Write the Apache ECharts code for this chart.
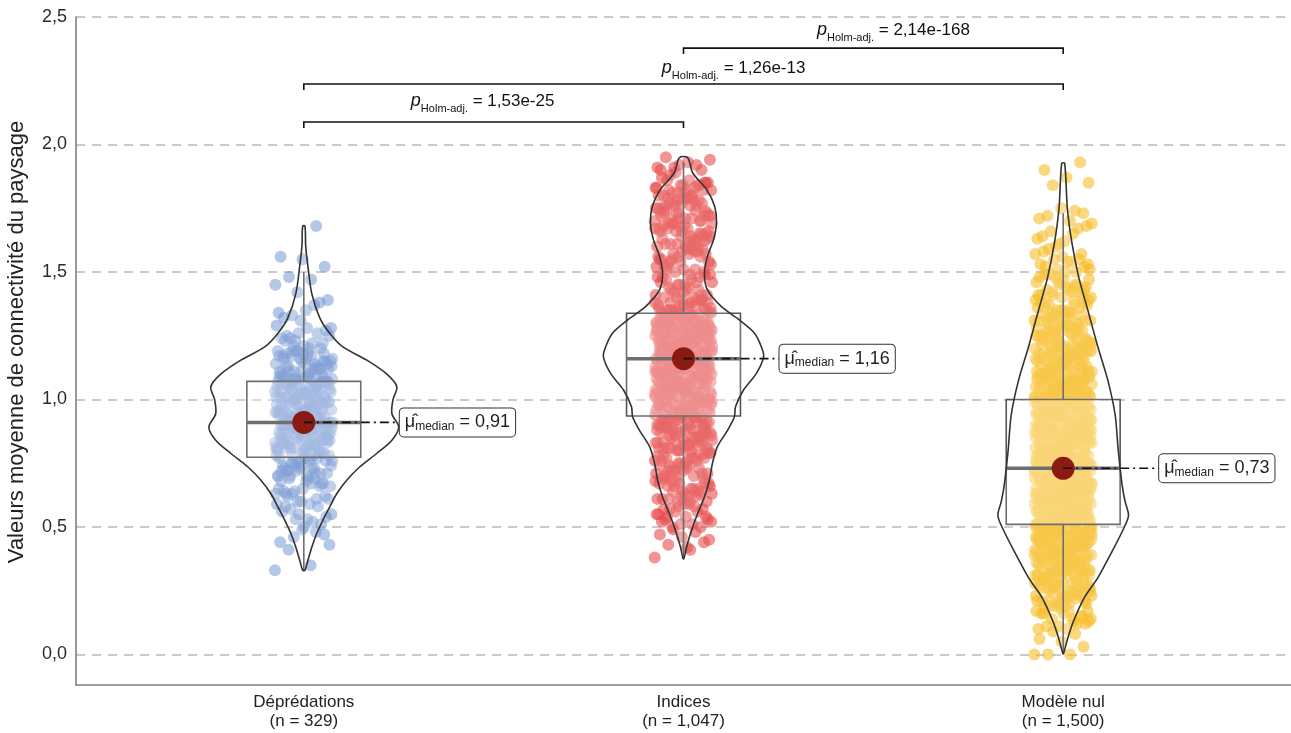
<!DOCTYPE html>
<html>
<head>
<meta charset="utf-8">
<script src="https://cdn.jsdelivr.net/npm/echarts@6/dist/echarts.min.js"></script>
</head>
<body style="margin: 0">
<div id="container" style="width: 1291px; height: 733px"></div>
<script>
// groupes et effectifs
var categories = ['Déprédations', 'Indices', 'Modèle nul'];
var sampleSizes = ['329', '1,047', '1,500'];
var yTicks = [0, 0.5, 1, 1.5, 2, 2.5];

// valeurs, en centièmes
var depredations = [33,35,
41,47,49,44,48,46,43,
53,58,51,55,59,52,57,54,50,56,58,53,55,59,
62,67,60,65,69,63,61,68,64,66,60,63,67,69,62,65,68,61,64,66,69,63,67,
73,70,78,75,71,77,74,79,72,76,76,72,79,74,77,71,75,78,70,73,71,75,78,73,70,76,79,72,77,74,74,77,72,79,76,70,73,78,
84,81,87,80,89,83,86,82,88,85,86,82,89,84,87,81,85,88,80,83,81,85,88,83,80,86,89,82,87,84,84,87,82,89,86,80,83,88,85,81,88,83,86,80,84,89,81,87,82,85,84,87,81,86,89,83,
93,90,98,95,91,97,94,99,92,96,96,92,99,94,97,91,95,98,90,93,91,95,98,93,90,96,99,92,97,94,94,97,92,99,96,90,93,98,95,91,98,93,96,90,94,99,91,97,92,95,91,95,98,93,90,96,94,
103,100,108,105,101,107,104,109,102,106,106,102,109,104,107,101,105,108,100,103,101,105,108,103,100,106,109,102,107,104,104,107,102,109,106,100,103,108,105,101,108,103,106,100,104,109,101,107,102,105,101,104,107,103,106,100,108,
113,110,118,115,111,117,114,119,112,116,116,112,119,114,117,111,115,118,110,113,111,115,118,113,110,116,119,112,117,114,114,117,112,119,116,110,113,118,115,111,112,
121,125,128,123,120,126,129,122,124,127,121,124,126,123,128,120,125,122,
131,134,137,133,139,135,132,138,
142,145,147,148,
152,155,156,
168];

var indices = [38,
41,43,44,46,47,48,49,45,42,
53,50,58,55,51,57,54,59,52,56,56,52,59,54,57,51,55,58,50,53,54,57,
63,60,68,65,61,67,64,69,62,66,66,62,69,64,67,61,65,68,60,63,61,65,68,63,60,66,69,62,67,64,64,67,
73,70,78,75,71,77,74,79,72,76,76,72,79,74,77,71,75,78,70,73,71,75,78,73,70,76,79,72,77,74,74,77,72,79,76,70,
83,80,88,85,81,87,84,89,82,86,86,82,89,84,87,81,85,88,80,83,81,85,88,83,80,86,89,82,87,84,84,87,82,89,86,80,83,88,85,81,88,83,86,80,84,89,81,87,
93,90,98,95,91,97,94,99,92,96,96,92,99,94,97,91,95,98,90,93,91,95,98,93,90,96,99,92,97,94,94,97,92,99,96,90,93,98,95,91,98,93,96,90,94,99,91,97,92,95,92,99,95,97,90,94,98,93,
103,100,108,105,101,107,104,109,102,106,106,102,109,104,107,101,105,108,100,103,101,105,108,103,100,106,109,102,107,104,104,107,102,109,106,100,103,108,105,101,108,103,106,100,104,109,101,107,102,105,102,109,105,107,103,108,100,106,104,101,105,101,107,102,109,104,106,100,108,103,
113,110,118,115,111,117,114,119,112,116,116,112,119,114,117,111,115,118,110,113,111,115,118,113,110,116,119,112,117,114,114,117,112,119,116,110,113,118,115,111,118,113,116,110,114,119,111,117,112,115,112,119,115,117,113,118,110,116,114,111,115,111,117,112,119,114,116,110,118,113,117,114,110,116,112,115,118,111,119,113,113,116,119,111,114,117,
123,120,128,125,121,127,124,129,122,126,126,122,129,124,127,121,125,128,120,123,121,125,128,123,120,126,129,122,127,124,124,127,122,129,126,120,123,128,125,121,128,123,126,120,124,129,121,127,122,125,122,129,125,127,123,128,120,126,124,121,125,121,127,122,129,124,126,120,128,123,127,124,120,126,122,125,128,121,129,123,124,127,
133,130,138,135,131,137,134,139,132,136,136,132,139,134,137,131,135,138,130,133,131,135,138,133,130,136,139,132,137,134,134,137,132,139,136,130,133,138,135,131,130,133,131,134,132,135,130,132,136,131,133,130,
143,140,148,145,141,147,144,149,142,146,146,142,149,144,147,141,145,148,140,143,141,145,148,143,140,146,149,
153,150,158,155,151,157,154,159,152,156,156,152,159,154,157,151,155,158,150,153,157,151,159,154,156,158,155,
163,160,168,165,161,167,164,169,162,166,166,162,169,164,167,161,165,168,160,163,161,165,168,163,160,166,169,162,167,164,164,167,162,169,166,160,
173,170,178,175,171,177,174,179,172,176,176,172,179,174,177,171,175,178,170,173,171,175,178,173,170,176,179,172,177,174,174,177,172,179,176,170,173,
183,180,188,185,181,187,184,189,182,186,186,182,184,180,183,181,185,182,180,184,181,183,180,182,185,184,
190,192,191,194,193,195,190,192,191];

var modeleNul = [0,0,0,3,5,6,8,9,
13,10,18,15,11,17,14,19,12,16,16,12,19,14,17,11,15,18,10,13,14,17,19,16,
23,20,28,25,21,27,24,29,22,26,26,22,29,24,27,21,25,28,20,23,21,25,28,23,20,26,29,22,27,24,24,27,22,29,26,20,23,28,25,21,28,26,29,27,25,
33,30,38,35,31,37,34,39,32,36,36,32,39,34,37,31,35,38,30,33,31,35,38,33,30,36,39,32,37,34,34,37,32,39,36,30,33,38,35,31,38,33,36,30,34,39,31,37,32,35,32,39,35,37,33,38,30,36,34,31,37,39,
43,40,48,45,41,47,44,49,42,46,46,42,49,44,47,41,45,48,40,43,41,45,48,43,40,46,49,42,47,44,44,47,42,49,46,40,43,48,45,41,48,43,46,40,44,49,41,47,42,45,42,49,45,47,43,48,40,46,44,41,45,41,47,42,49,44,46,40,48,43,47,44,40,46,42,45,48,41,49,43,47,49,
53,50,58,55,51,57,54,59,52,56,56,52,59,54,57,51,55,58,50,53,51,55,58,53,50,56,59,52,57,54,54,57,52,59,56,50,53,58,55,51,58,53,56,50,54,59,51,57,52,55,52,59,55,57,53,58,50,56,54,51,55,51,57,52,59,54,56,50,58,53,57,54,50,56,52,55,58,51,59,53,50,56,53,58,55,52,57,54,51,59,52,55,51,57,
63,60,68,65,61,67,64,69,62,66,66,62,69,64,67,61,65,68,60,63,61,65,68,63,60,66,69,62,67,64,64,67,62,69,66,60,63,68,65,61,68,63,66,60,64,69,61,67,62,65,62,69,65,67,63,68,60,66,64,61,65,61,67,62,69,64,66,60,68,63,67,64,60,66,62,65,68,61,69,63,63,60,68,65,61,67,64,62,
73,70,78,75,71,77,74,79,72,76,76,72,79,74,77,71,75,78,70,73,71,75,78,73,70,76,79,72,77,74,74,77,72,79,76,70,73,78,75,71,78,73,76,70,74,79,71,77,72,75,72,79,75,77,73,78,70,76,74,71,75,71,77,72,79,74,76,70,78,73,77,74,70,76,72,75,78,71,79,73,72,75,
83,80,88,85,81,87,84,89,82,86,86,82,89,84,87,81,85,88,80,83,81,85,88,83,80,86,89,82,87,84,84,87,82,89,86,80,83,88,85,81,88,83,86,80,84,89,81,87,82,85,82,89,85,87,83,88,80,86,84,81,85,81,87,82,89,84,86,80,88,83,87,84,80,86,82,85,88,81,89,83,
93,90,98,95,91,97,94,99,92,96,96,92,99,94,97,91,95,98,90,93,91,95,98,93,90,96,99,92,97,94,94,97,92,99,96,90,93,98,95,91,98,93,96,90,94,99,91,97,92,95,92,99,95,97,93,98,90,96,94,91,95,91,97,92,99,94,96,90,98,93,93,90,98,95,91,
103,100,108,105,101,107,104,109,102,106,106,102,109,104,107,101,105,108,100,103,101,105,108,103,100,106,109,102,107,104,104,107,102,109,106,100,103,108,105,101,108,103,106,100,104,109,101,107,102,105,102,109,105,107,103,108,100,106,104,101,103,100,108,105,101,107,104,102,
113,110,118,115,111,117,114,119,112,116,116,112,119,114,117,111,115,118,110,113,111,115,118,113,110,116,119,112,117,114,114,117,112,119,116,110,113,118,115,111,118,113,116,110,114,119,111,117,112,115,113,110,118,115,111,116,
123,120,128,125,121,127,124,129,122,126,126,122,129,124,127,121,125,128,120,123,121,125,128,123,120,126,129,122,127,124,124,127,122,129,126,120,123,128,125,121,123,120,125,121,124,122,
133,130,138,135,131,137,134,139,132,136,136,132,139,134,137,131,135,138,130,133,131,135,138,133,130,136,139,132,137,134,133,130,135,131,134,132,
143,140,148,145,141,147,144,149,142,146,146,142,149,144,147,141,145,148,140,143,143,140,145,141,144,142,
153,150,158,155,151,157,154,159,152,156,153,150,155,151,154,152,157,
161,163,165,166,168,162,164,167,160,169,
170,172,173,175,171,174,
184,185,187,
190,193];

// boîtes : [moustache basse, Q1, médiane, Q3, moustache haute]
var boxStats = [
  [0.33, 0.773, 0.91, 1.071, 1.50],
  [0.38, 0.935, 1.16, 1.338, 1.93],
  [0.00, 0.51, 0.73, 1.00, 1.73]
];
var medians = [0.91, 1.16, 0.73];
var medianLabels = ['0,91', '1,16', '0,73'];

// profils des violons : [valeur, demi-largeur]
var violinDepredations = [[0.33,0.003],[0.37,0.011],[0.42,0.021],[0.474,0.034],[0.526,0.05],[0.578,0.068],[0.631,0.087],[0.683,0.113],[0.735,0.147],[0.788,0.192],[0.84,0.232],[0.892,0.25],[0.944,0.232],[1.0,0.235],[1.05,0.245],[1.10,0.218],[1.154,0.166],[1.206,0.103],[1.26,0.068],[1.32,0.042],[1.415,0.021],[1.52,0.011],[1.60,0.005],[1.68,0.003]];
var violinIndices = [[0.375,0.001],[0.421,0.008],[0.486,0.021],[0.552,0.037],[0.617,0.055],[0.683,0.068],[0.748,0.076],[0.814,0.089],[0.879,0.116],[0.932,0.134],[0.971,0.137],[1.037,0.158],[1.102,0.192],[1.168,0.211],[1.207,0.205],[1.26,0.187],[1.312,0.147],[1.364,0.1],[1.43,0.063],[1.495,0.055],[1.561,0.063],[1.626,0.079],[1.692,0.087],[1.758,0.082],[1.823,0.061],[1.889,0.024],[1.948,0.011]];
var violinModeleNul = [[0.004,0.001],[0.058,0.011],[0.126,0.026],[0.221,0.055],[0.30,0.091],[0.396,0.126],[0.49,0.158],[0.545,0.172],[0.60,0.163],[0.667,0.155],[0.80,0.145],[0.938,0.137],[1.073,0.118],[1.208,0.091],[1.344,0.066],[1.479,0.041],[1.614,0.023],[1.75,0.011],[1.926,0.004]];

// comparaisons par paires
var pairs = [[1, 2], [1, 3], [2, 3]];
var pairValues = ['1,53e-25', '1,26e-13', '2,14e-168'];
var pairLevels = [2.088, 2.237, 2.378];

var colors = ['#6b8fcf', '#e64c4c', '#f7be2a'];
var font = '"Liberation Sans", Arial, sans-serif';

var groups = [depredations, indices, modeleNul];
var violins = [violinDepredations, violinIndices, violinModeleNul];

// jitter horizontal déterministe
function jitter(i) {
  return (((i * 0.6180339887) % 1) - 0.5) * 2 * 0.076;
}

var dom = document.getElementById('container');
var myChart = echarts.init(dom);

var series = [];
groups.forEach(function (vals, g) {
  series.push({
    type: 'scatter',
    name: categories[g],
    data: vals.map(function (v, i) { return [g + 1 + jitter(i), v / 100]; }),
    symbolSize: 12,
    itemStyle: { color: colors[g], opacity: g === 0 ? 0.5 : 0.6 },
    silent: true,
    progressive: 0,
    z: 1
  });
});

series.push({
  type: 'custom',
  data: [[1, 0], [2, 0], [3, 0]],
  silent: true,
  z: 3,
  renderItem: function (params, api) {
    var i = params.dataIndex;
    var s = boxStats[i];
    var cx = i + 1;
    var hw = 0.15;
    var pLo = api.coord([cx, s[0]]), pQ1 = api.coord([cx, s[1]]);
    var pQ3 = api.coord([cx, s[3]]), pHi = api.coord([cx, s[4]]);
    var tl = api.coord([cx - hw, s[3]]), br = api.coord([cx + hw, s[1]]);
    var ml = api.coord([cx - hw, s[2]]), mr = api.coord([cx + hw, s[2]]);
    var st = { stroke: '#555', lineWidth: 1.6 };
    return {
      type: 'group',
      children: [
        { type: 'line', shape: { x1: pLo[0], y1: pLo[1], x2: pQ1[0], y2: pQ1[1] }, style: st },
        { type: 'line', shape: { x1: pQ3[0], y1: pQ3[1], x2: pHi[0], y2: pHi[1] }, style: st },
        { type: 'rect', shape: { x: tl[0], y: tl[1], width: br[0] - tl[0], height: br[1] - tl[1] },
          style: { fill: 'rgba(255,255,255,0.25)', stroke: '#555', lineWidth: 1.6 } },
        { type: 'line', shape: { x1: ml[0], y1: ml[1], x2: mr[0], y2: mr[1] }, style: { stroke: '#555', lineWidth: 3.5 } }
      ]
    };
  }
});

series.push({
  type: 'custom',
  data: [[1, 0], [2, 0], [3, 0]],
  silent: true,
  z: 4,
  renderItem: function (params, api) {
    var i = params.dataIndex;
    var prof = violins[i];
    var cx = i + 1;
    var right = prof.map(function (p) { return api.coord([cx + p[1], p[0]]); });
    var left = prof.slice().reverse().map(function (p) { return api.coord([cx - p[1], p[0]]); });
    return {
      type: 'polygon',
      shape: { points: right.concat(left), smooth: 0.3 },
      style: { fill: 'rgba(255,255,255,0.15)', stroke: '#333', lineWidth: 1.6 }
    };
  }
});

series.push({
  type: 'custom',
  data: [[1, 0], [2, 0], [3, 0]],
  silent: true,
  z: 5,
  renderItem: function (params, api) {
    var i = params.dataIndex;
    var c = api.coord([i + 1, medians[i]]);
    var lx = c[0] + 96;
    return {
      type: 'group',
      children: [
        { type: 'circle', shape: { cx: c[0], cy: c[1], r: 11.5 }, style: { fill: '#8b1a12' } },
        { type: 'line', shape: { x1: c[0], y1: c[1], x2: lx, y2: c[1] },
          style: { stroke: '#111', lineWidth: 1.6, lineDash: [9, 4, 2, 4] } },
        { type: 'text', x: lx, y: c[1],
          style: {
            text: '{mu|μ̂}{sub|median}{val| = ' + medianLabels[i] + '}',
            align: 'left', verticalAlign: 'middle',
            backgroundColor: '#fff', borderColor: '#333', borderWidth: 1, borderRadius: 4,
            padding: [4, 5, 4, 5],
            rich: {
              mu: { fontFamily: font, fontSize: 18, lineHeight: 20, fill: '#222' },
              sub: { fontFamily: font, fontSize: 12, lineHeight: 14, verticalAlign: 'bottom', fill: '#222' },
              val: { fontFamily: font, fontSize: 18, lineHeight: 20, fill: '#222' }
            }
          } }
      ]
    };
  }
});

// positions des étiquettes de p (centre x, niveau y)
var pLabelPos = [[1.471, 2.170], [2.132, 2.300], [2.553, 2.449]];

series.push({
  type: 'custom',
  data: [[1, 0], [2, 0], [3, 0]],
  silent: true,
  z: 6,
  renderItem: function (params, api) {
    var i = params.dataIndex;
    var a = api.coord([pairs[i][0], pairLevels[i]]);
    var b = api.coord([pairs[i][1], pairLevels[i]]);
    var t = api.coord(pLabelPos[i]);
    return {
      type: 'group',
      children: [
        { type: 'polyline', shape: { points: [[a[0], a[1] + 6], a, b, [b[0], b[1] + 6]] },
          style: { stroke: '#111', lineWidth: 1.6, fill: null } },
        { type: 'text', x: t[0], y: t[1],
          style: {
            text: '{p|p}{sub|Holm-adj.}{val| = ' + pairValues[i] + '}',
            align: 'center', verticalAlign: 'middle',
            rich: {
              p: { fontFamily: font, fontStyle: 'italic', fontSize: 18, lineHeight: 26, fill: '#111' },
              sub: { fontFamily: font, fontSize: 11, lineHeight: 12, verticalAlign: 'bottom', fill: '#111' },
              val: { fontFamily: font, fontSize: 17, lineHeight: 26, fill: '#111' }
            }
          } }
      ]
    };
  }
});

option = {
  animation: false,
  backgroundColor: '#fff',
  textStyle: { fontFamily: font },
  grid: { left: 76, right: 0, top: 17, bottom: 48 },
  xAxis: {
    type: 'value',
    min: 0.4,
    max: 3.6,
    splitLine: { show: false },
    axisTick: { show: false },
    axisLine: { onZero: false, lineStyle: { color: '#808080', width: 1.6 } },
    axisLabel: {
      customValues: [1, 2, 3],
      formatter: function (v) {
        var k = Math.round(v) - 1;
        return categories[k] + '\n(n = ' + sampleSizes[k] + ')';
      },
      color: '#222',
      fontSize: 17,
      lineHeight: 19,
      margin: 8
    }
  },
  yAxis: {
    type: 'value',
    min: -0.12,
    max: 2.5,
    axisLine: { show: true, onZero: false, lineStyle: { color: '#808080', width: 1.6 } },
    axisTick: { show: false, customValues: yTicks },
    axisLabel: {
      customValues: yTicks,
      formatter: function (v) { return v.toFixed(1).replace('.', ','); },
      color: '#2b2b2b',
      fontSize: 18,
      margin: 9
    },
    splitLine: { show: true, lineStyle: { type: [9, 7], color: '#bdb8b3', width: 1.5 } }
  },
  graphic: [{
    type: 'text',
    x: 17,
    y: 342,
    rotation: Math.PI / 2,
    style: {
      text: 'Valeurs moyenne de connectivité du paysage',
      font: '22px ' + font,
      fill: '#222',
      align: 'center',
      verticalAlign: 'middle'
    }
  }],
  series: series
};

myChart.setOption(option);
</script>
</body>
</html>
